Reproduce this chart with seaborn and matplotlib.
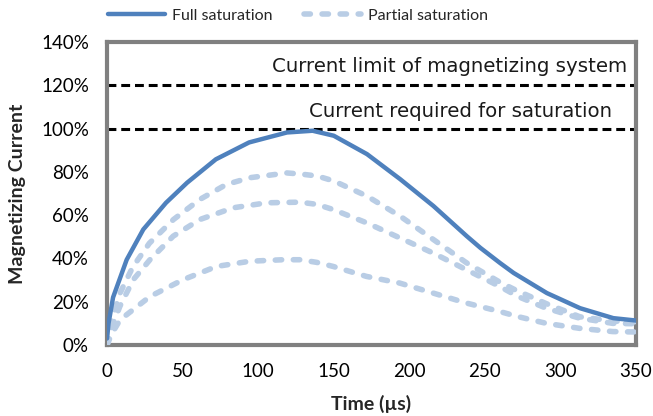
import numpy as np
import pandas as pd
import seaborn as sns
import matplotlib.pyplot as plt
from matplotlib.ticker import PercentFormatter, MultipleLocator

# Full saturation pulse (time in us, current in % of saturation current)
full_t = [0, 1, 4, 13, 24, 39, 53, 72, 94, 119, 136, 150, 172, 194, 216, 238,
          247, 260, 269, 291, 313, 335, 350]
full_i = [3, 10, 22, 39.4, 53.4, 65.7, 75, 85.8, 93.6, 98.2, 99, 96.7, 88.2,
          76.6, 64.2, 50.3, 44.9, 37.9, 33.3, 24, 17, 12.4, 11.3]

# Partial saturation pulses
part_a_t = [0, 2, 8.6, 17, 28, 44, 61.5, 79, 94.5, 119, 128, 139, 150, 172,
            194, 216, 238, 260, 270, 291, 313, 335, 350]
part_a_i = [0, 9, 24, 36, 47, 58, 67.3, 74.2, 77.3, 79.5, 79, 78.1, 75.8, 68.8,
            59.5, 48.7, 37.9, 29, 25.5, 19, 13, 11, 10.8]

part_b_t = [0, 3, 8.6, 17.4, 28.4, 43.8, 61.5, 83.5, 105.6, 127.6, 138.6, 149.6,
            171.6, 193.7, 215.7, 237.7, 259.7, 271.9, 290.6, 312.6, 334.6, 350]
part_b_i = [0, 8, 18, 30.2, 39.4, 50.3, 58, 63.4, 65.7, 66, 65, 62.6, 56.5,
            49.5, 42.5, 34.8, 27.1, 22.4, 17, 12.4, 10, 9.8]

part_c_t = [0, 3, 8.6, 28.4, 50.4, 72.5, 94.5, 116.5, 127.5, 138.6, 149.6,
            171.6, 193.7, 215.7, 237.7, 259.7, 271.9, 290.6, 312.6, 334.6, 350]
part_c_i = [0, 5, 11.6, 22.4, 30.2, 36.3, 38.7, 39.4, 39.4, 38.2, 36.3, 31.7,
            28.6, 24, 19.4, 15.5, 13.1, 10, 7.7, 6.2, 6]

limit_levels = [120, 100]
limit_labels = ["Current limit of magnetizing system",
                "Current required for saturation"]

full_color = "#4F81BD"
part_color = "#B9CDE5"
frame_color = "#808080"

sns.set_style("white")
plt.rcParams['font.family'] = ['Lato', 'DejaVu Sans']

fig = plt.figure(figsize=(6.53, 4.16), dpi=100)
ax = fig.add_axes([0.1639, 0.1707, 0.974 - 0.1639, 0.899 - 0.1707])

# Reference levels
for lvl in limit_levels:
    ax.axhline(lvl, color="black", lw=2.2, linestyle=(0, (2.9, 1.6)), zorder=2)

# Partial saturation curves
for i, (t, c) in enumerate([(part_a_t, part_a_i), (part_b_t, part_b_i), (part_c_t, part_c_i)]):
    sns.lineplot(x=t, y=c, ax=ax, color=part_color, lw=4,
                 linestyle=(0, (1.15, 2.1)), dash_capstyle="round",
                 label="Partial saturation" if i == 0 else None, zorder=3)

# Full saturation curve
sns.lineplot(x=full_t, y=full_i, ax=ax, color=full_color, lw=3.2,
             label="Full saturation", zorder=4)

ax.text(344, 128.5, limit_labels[0], ha="right", va="center", fontsize=14.2,
        color="#1a1a1a", family="DejaVu Sans")
ax.text(334, 107.7, limit_labels[1], ha="right", va="center", fontsize=14.2,
        color="#1a1a1a", family="DejaVu Sans")

ax.set_xlim(0, 350)
ax.set_ylim(0, 140)
ax.xaxis.set_major_locator(MultipleLocator(50))
ax.yaxis.set_major_locator(MultipleLocator(20))
ax.yaxis.set_major_formatter(PercentFormatter(100, decimals=0))

for sp in ax.spines.values():
    sp.set_visible(True)
    sp.set_color(frame_color)
    sp.set_linewidth(3)

ax.tick_params(axis="both", direction="in", length=5, width=1.5,
               color=frame_color, labelsize=13.5, labelcolor="black")
ax.tick_params(axis="y", pad=13)
ax.tick_params(axis="x", pad=13)

ax.set_xlabel("Time (µs)", fontsize=14, fontweight="bold", labelpad=11)
ax.set_ylabel("Magnetizing Current", fontsize=14, fontweight="bold", labelpad=11)

handles, labels = ax.get_legend_handles_labels()
order = [labels.index("Full saturation"), labels.index("Partial saturation")]
ax.legend([handles[k] for k in order], [labels[k] for k in order],
          loc="center", bbox_to_anchor=(0.456, 0.962),
          bbox_transform=fig.transFigure, ncol=2, frameon=False,
          fontsize=11.5, handlelength=3.6, columnspacing=2.0, handletextpad=0.4)

fig.savefig("out.png", dpi=100)
